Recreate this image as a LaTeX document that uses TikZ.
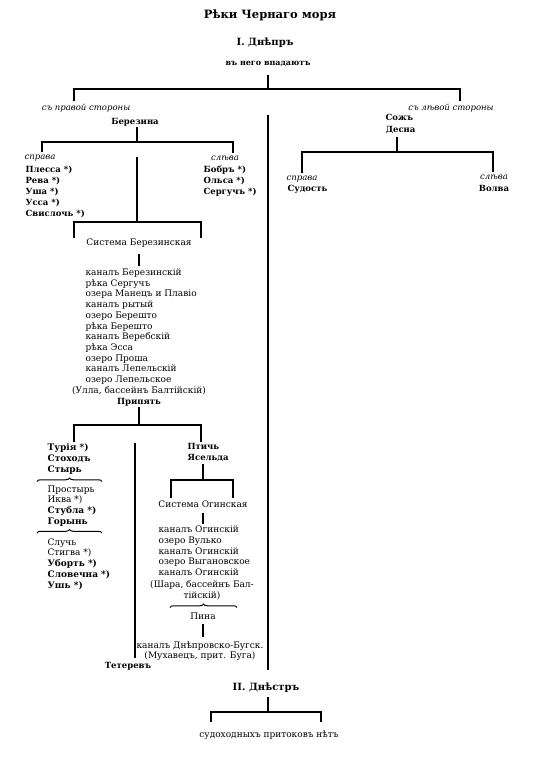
\documentclass[tikz,border=0pt]{standalone}
\usepackage{fontspec}
\setmainfont{DejaVu Serif}
\usetikzlibrary{decorations.pathreplacing}

\newcommand\rv[1]{\textbf{#1}}
\newcommand\fsz[2]{\fontsize{#1}{#2}\selectfont}

\begin{document}
\begin{tikzpicture}[
    x=1pt, y=-1pt,
    line width=1.2pt,
    titlenode/.style={font=\bfseries\fsz{11.5}{13}, inner sep=0pt},
    headnode/.style={font=\bfseries\fsz{10}{12}, inner sep=0pt},
    sidenode/.style={font=\itshape\fsz{8.5}{10}, inner xsep=0pt, inner ysep=2pt},
    rivnode/.style={font=\bfseries\fsz{8.5}{11}, align=left, inner sep=0pt},
    txtnode/.style={font=\fsz{9}{10.7}, align=left, inner sep=0pt},
    brc/.style={decorate, decoration={brace, amplitude=3.5pt}, line width=1pt}
]
\path[fill=white, use as bounding box] (0,0) rectangle (543,760);

% Title
\node[titlenode] (title) at (270,15) {Рѣки Чернаго моря};
\node[headnode] (dnepr) at (265,43) {I. Днѣпръ};
\node[font=\bfseries\fsz{8}{10}, inner sep=0pt] (vpad) at (268,64) {въ него впадаютъ};

% Dnieper tributaries
\coordinate (j0) at (268,89);
\coordinate (j0l) at (74,89);
\coordinate (j0r) at (460,89);
\node[sidenode] (pravo) at (86,108) {съ правой стороны};
\node[sidenode] (levo) at (451,108) {съ лѣвой стороны};
\draw[shorten <=8pt] (vpad) -- (j0);
\draw (pravo.north -| j0l) |- (j0r) -- (j0r |- levo.north);

% Berezina
\node[rivnode] (berez) at (135,122) {Березина};
\coordinate (j1) at (137,142);
\coordinate (j1l) at (42,142);
\coordinate (j1r) at (233,142);
\node[sidenode] (spr1) at (40,158) {справа};
\node[sidenode] (slv1) at (225,158) {слѣва};
\draw (berez.south -| j1) -- (j1);
\draw (spr1.north -| j1l) |- (j1r) -- (j1r |- slv1.north);
\node[rivnode, anchor=north west] (spr1list) at (25,165.7)
    {Плесса~*)\\Рева~*)\\Уша~*)\\Усса~*)\\Свислочь~*)};
\node[rivnode, anchor=north west] (slv1list) at (203,165.7)
    {Бобръ~*)\\Ольса~*)\\Сергучъ~*)};

% Berezina system
\coordinate (b1) at (137,157);
\coordinate (j2) at (137,222);
\coordinate (j2l) at (74,222);
\coordinate (j2r) at (201,222);
\node[txtnode] (sysb) at (139,243.5) {Система Березинская};
\draw (b1) -- (j2);
\draw[shorten <=1pt, shorten >=1pt] (j2l |- sysb.north) |- (j2r) -- (j2r |- sysb.north);
\node[txtnode, anchor=north west] (sysblist) at (85,268.2)
    {каналъ Березинскій\\рѣка Сергучъ\\озера Манецъ и Плавіо\\каналъ рытый\\озеро Берешто\\рѣка Берешто\\каналъ Веребскій\\рѣка Эсса\\озеро Проша\\каналъ Лепельскій\\озеро Лепельское};
\draw[shorten <=6pt, shorten >=2pt] (sysb) -- (sysb |- sysblist.north);
\node[txtnode] (ulla) at (139,391) {(Улла, бассейнъ Балтійскій)};
\node[rivnode] (prip) at (139,402.5) {Припять};

% Pripyat
\coordinate (j3) at (139,425);
\coordinate (j3l) at (74,425);
\coordinate (j3r) at (201,425);
\node[txtnode, anchor=north west] (grp1) at (47,443.5)
    {\rv{Турія~*)}\\\rv{Стоходъ}\\\rv{Стырь}};
\node[txtnode, anchor=north west] (grp2) at (47,485)
    {Простырь\\Иква~*)\\\rv{Стубла~*)}\\\rv{Горынь}};
\node[txtnode, anchor=north west] (grp3) at (47,538)
    {Случь\\Стигва~*)\\\rv{Уборть~*)}\\\rv{Словечна~*)}\\\rv{Ушь~*)}};
\draw[brc] (37,481.5) -- (102,481.5);
\draw[brc] (37,533) -- (102,533);
\node[rivnode, anchor=north west] (ptich) at (187,442.7) {Птичь\\Ясельда};
\draw (prip) -- (j3);
\draw[shorten <=1.5pt, shorten >=1pt] (j3l |- grp1.north) |- (j3r) -- (j3r |- ptich.north);

% Teterev
\coordinate (tettop) at (135,443);
\node[rivnode] (tet) at (128,666) {Тетеревъ};
\draw[shorten >=3pt] (tettop) -- (tettop |- tet.north);

% Oginsky system
\coordinate (j4) at (203,480);
\coordinate (j4l) at (171,480);
\coordinate (j4r) at (233,480);
\node[txtnode] (syso) at (203,504) {Система Огинская};
\draw[shorten <=2pt] (ptich.south -| j4) -- (j4);
\draw[shorten <=2pt, shorten >=2pt] (j4l |- syso.north) |- (j4r) -- (j4r |- syso.north);
\node[txtnode, anchor=north west] (sysolist) at (158,525.5)
    {каналъ Огинскій\\озеро Вулько\\каналъ Огинскій\\озеро Выгановское\\каналъ Огинскій};
\draw[shorten <=5pt, shorten >=2pt] (syso) -- (syso |- sysolist.north);
\node[txtnode, align=center] (shara) at (202,590.5) {(Шара, бассейнъ Бал-\\тійскій)};
\draw[brc] (170,607.5) -- (237,607.5);
\node[txtnode] (pina) at (203,616) {Пина};
\node[txtnode, align=center] (dnbug) at (200,651)
    {каналъ Днѣпровско-Бугск.\\(Мухавецъ, прит. Буга)};
\draw[shorten <=4pt, shorten >=4pt] (pina) -- (pina |- dnbug.north);

% Sozh and Desna
\node[rivnode, anchor=north west] (sozh) at (385,113.7) {Сожъ\\[1pt]Десна};
\coordinate (j6) at (397,152);
\coordinate (j6l) at (302,152);
\coordinate (j6r) at (493,152);
\node[sidenode] (spr2) at (302,179) {справа};
\node[sidenode] (slv2) at (494,177) {слѣва};
\draw[shorten <=2pt] (sozh.south -| j6) -- (j6);
\draw (j6l |- spr2.north) |- (j6r) -- (j6r |- slv2.north);
\node[rivnode, anchor=west] (sudost) at (287,189) {Судость};
\node[rivnode] (volva) at (494,188) {Волва};

% Dniester
\coordinate (trunk) at (268,115);
\node[headnode] (dnestr) at (266,688) {II. Днѣстръ};
\draw[shorten >=13pt] (trunk) -- (trunk |- dnestr.north);
\coordinate (j5) at (268,712);
\coordinate (j5l) at (211,712);
\coordinate (j5r) at (321,712);
\node[txtnode] (nopr) at (269,735) {судоходныхъ притоковъ нѣтъ};
\draw[shorten <=4pt] (dnestr.south -| j5) -- (j5);
\draw[shorten <=8pt, shorten >=8pt] (j5l |- nopr.north) |- (j5r) -- (j5r |- nopr.north);

\end{tikzpicture}
\end{document}
